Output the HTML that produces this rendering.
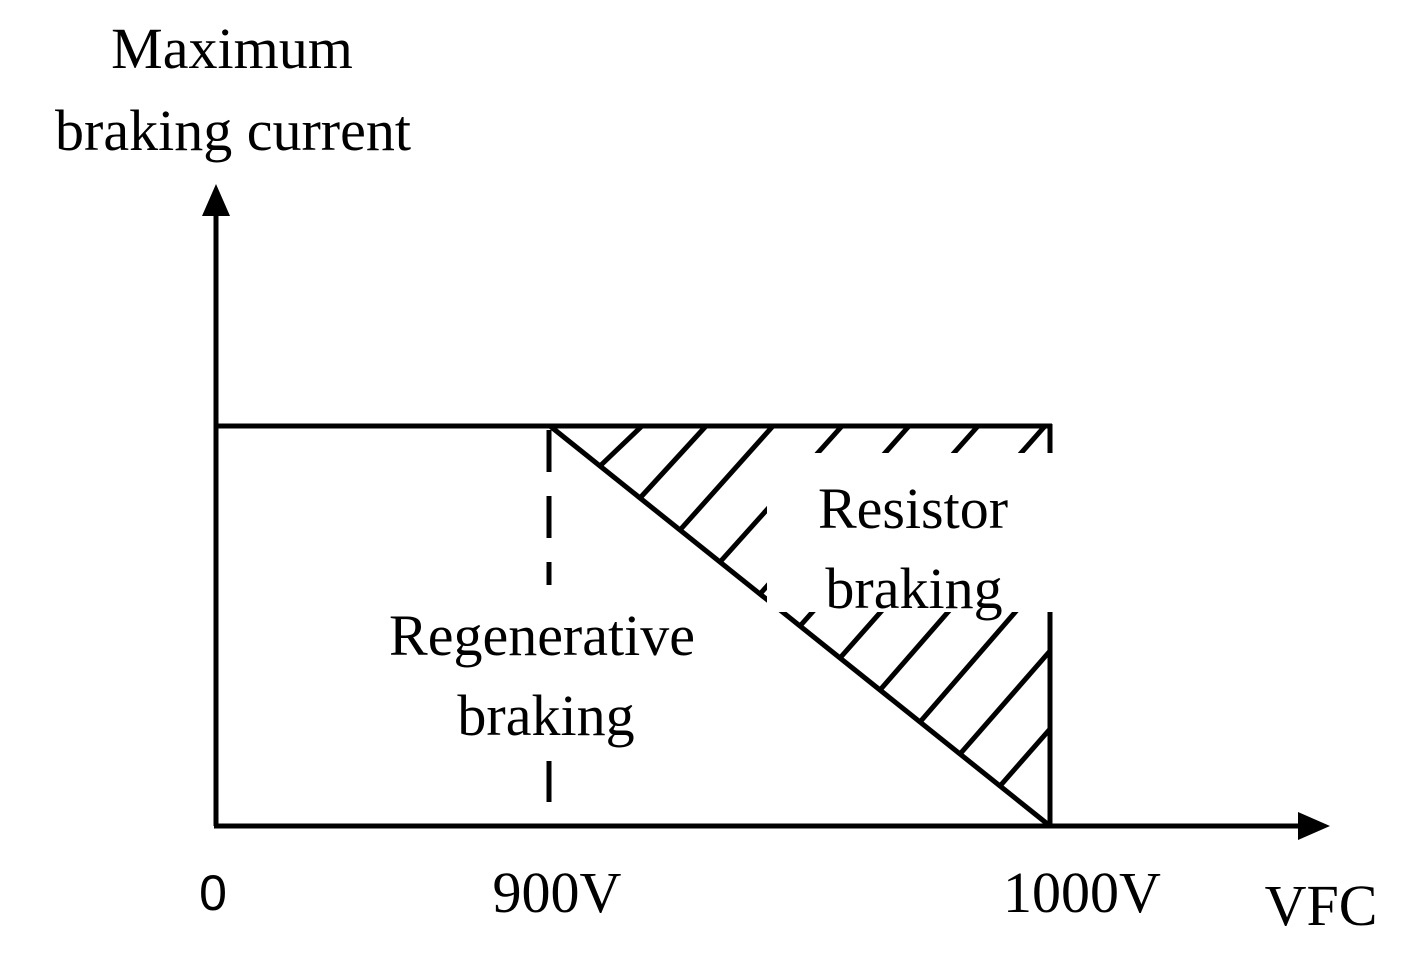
<!DOCTYPE html>
<html><head><style>
html,body{margin:0;padding:0;background:#fff;}
svg{display:block;}
text{font-family:"Liberation Serif",serif;fill:#000;}
</style></head><body>
<svg width="1405" height="962" viewBox="0 0 1405 962" xmlns="http://www.w3.org/2000/svg">
<g stroke="#000" stroke-width="5" fill="none">
<!-- axes -->
<line x1="216" y1="826" x2="216" y2="210"/>
<line x1="214" y1="826" x2="1302" y2="826"/>
<!-- top line -->
<line x1="216" y1="426" x2="1052" y2="426"/>
<!-- right vertical -->
<line x1="1050" y1="424" x2="1050" y2="828"/>
<!-- diagonal -->
<line x1="550" y1="426" x2="1050" y2="826"/>
<!-- dashed -->
<line x1="549" y1="430" x2="549" y2="808" stroke-dasharray="42 24"/>
<!-- hatch -->
<line x1="600" y1="466" x2="642" y2="426"/>
<line x1="640" y1="498" x2="706" y2="426"/>
<line x1="680" y1="530" x2="773" y2="426"/>
<line x1="720" y1="562" x2="842" y2="426"/>
<line x1="760" y1="594" x2="909" y2="426"/>
<line x1="800" y1="626" x2="978" y2="426"/>
<line x1="840" y1="658" x2="1045" y2="426"/>
<line x1="880" y1="690" x2="1050" y2="495"/>
<line x1="920" y1="722" x2="1050" y2="572"/>
<line x1="960" y1="754" x2="1050" y2="651"/>
<line x1="1000" y1="786" x2="1050" y2="729"/>
</g>
<!-- masks -->
<rect x="767" y="453" width="287" height="159" fill="#fff"/>
<rect x="540" y="585" width="20" height="176" fill="#fff"/>
<!-- arrowheads -->
<polygon points="216,184 202,216 230,216" fill="#000"/>
<polygon points="1330,826 1298,812 1298,840" fill="#000"/>
<!-- labels -->
<text x="232" y="68" font-size="58" text-anchor="middle">Maximum</text>
<text x="233" y="150" font-size="58" text-anchor="middle">braking current</text>
<text x="913" y="528" font-size="58" text-anchor="middle">Resistor</text>
<text x="914" y="608" font-size="58" text-anchor="middle">braking</text>
<text x="542" y="655" font-size="58" text-anchor="middle">Regenerative</text>
<text x="546" y="735" font-size="58" text-anchor="middle">braking</text>
<text x="213" y="910" font-size="50" text-anchor="middle" style="font-family:'Liberation Sans',sans-serif">0</text>
<text x="557" y="912" font-size="58" text-anchor="middle">900V</text>
<text x="1082" y="912" font-size="58" text-anchor="middle">1000V</text>
<text x="1321" y="925" font-size="58" text-anchor="middle">VFC</text>
</svg>
</body></html>
